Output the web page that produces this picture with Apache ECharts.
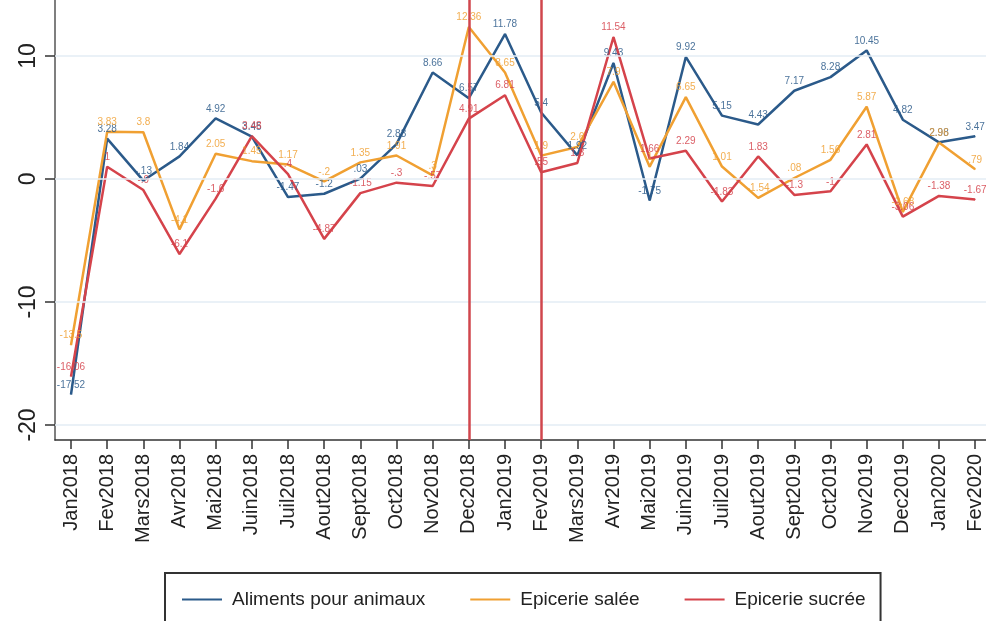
<!DOCTYPE html>
<html>
<head>
<meta charset="utf-8">
<script src="https://cdn.jsdelivr.net/npm/echarts@6/dist/echarts.min.js"></script>
<style>
  html, body { margin: 0; padding: 0; background: #fff; }
  #chart { width: 986px; height: 621px; }
</style>
</head>
<body>
<div id="chart"></div>
<script>
// mois (axe des x)
const months = ['Jan2018', 'Fev2018', 'Mars2018', 'Avr2018', 'Mai2018', 'Juin2018', 'Juil2018',
  'Aout2018', 'Sept2018', 'Oct2018', 'Nov2018', 'Dec2018', 'Jan2019', 'Fev2019', 'Mars2019',
  'Avr2019', 'Mai2019', 'Juin2019', 'Juil2019', 'Aout2019', 'Sept2019', 'Oct2019', 'Nov2019',
  'Dec2019', 'Jan2020', 'Fev2020']

const aliments = [-17.52, 3.28, -0.13, 1.84, 4.92, 3.45, -1.47, -1.2, 0.03, 2.83, 8.66, 6.57, 11.78,
  5.4, 1.92, 9.43, -1.75, 9.92, 5.15, 4.43, 7.17, 8.28, 10.45, 4.82, 2.98, 3.47]
const epicerieSalee = [-13.5, 3.83, 3.8, -4.1, 2.05, 1.45, 1.17, -0.2, 1.35, 1.91, 0.3, 12.36, 8.65,
  1.9, 2.6, 7.9, 1.0, 6.65, 1.01, -1.54, 0.08, 1.56, 5.87, -2.68, 2.96, 0.79]
const epicerieSucree = [-16.06, 1.0, -0.9, -6.1, -1.6, 3.48, 0.4, -4.87, -1.15, -0.3, -0.57, 4.91,
  6.81, 0.55, 1.3, 11.54, 1.66, 2.29, -1.83, 1.83, -1.3, -1, 2.81, -3.06, -1.38, -1.67]

const yTicks = [-20, -10, 0, 10]
const eventMonths = ['Dec2018', 'Fev2019']

const seriesNames = ['Aliments pour animaux', 'Epicerie salée', 'Epicerie sucrée']
const colors = ['#2b5a8a', '#f0a032', '#d5434b']

// format Stata : pas de zéro devant la virgule
function stataFmt(v) {
  return String(v).replace(/^(-?)0\./, '$1.')
}

function makeSeries(name, values, color, extra) {
  return Object.assign({
    name: name,
    type: 'line',
    data: values.map((v, i) => [i, v]),
    symbol: 'circle',
    symbolSize: 1,
    showSymbol: true,
    lineStyle: { color: color, width: 2.5 },
    itemStyle: { color: color },
    label: {
      show: true,
      position: 'top',
      distance: 4,
      fontSize: 10,
      fontFamily: 'Liberation Sans',
      color: color,
      opacity: 0.85,
      formatter: p => stataFmt(p.value[1])
    },
    labelLayout: { hideOverlap: false }
  }, extra || {})
}

const myChart = echarts.init(document.getElementById('chart'))

const option = {
  backgroundColor: '#fff',
  animation: false,
  grid: { left: 55, right: 0, top: 0, bottom: 181 },
  xAxis: {
    type: 'value',
    min: -0.4425,
    max: 25.3,
    splitLine: { show: false },
    axisLine: { show: true, onZero: false, lineStyle: { color: '#333', width: 1.5 } },
    axisTick: {
      show: true,
      length: 9,
      customValues: months.map((m, i) => i),
      lineStyle: { color: '#333', width: 1.5 }
    },
    axisLabel: {
      customValues: months.map((m, i) => i),
      rotate: 90,
      margin: 14,
      fontSize: 20,
      fontFamily: 'Liberation Sans',
      color: '#222',
      formatter: v => months[Math.round(v)]
    }
  },
  yAxis: {
    type: 'value',
    min: -21.22,
    max: 14.55,
    axisLine: { show: true, onZero: false, lineStyle: { color: '#555', width: 1.5 } },
    axisTick: {
      show: true,
      length: 10,
      customValues: yTicks,
      lineStyle: { color: '#333', width: 1.5 }
    },
    axisLabel: {
      customValues: yTicks,
      rotate: 90,
      margin: 15,
      fontSize: 23,
      fontFamily: 'Liberation Sans',
      color: '#222'
    },
    splitLine: { show: false }
  },
  legend: {
    left: 165,
    top: 573,
    data: seriesNames,
    icon: 'rect',
    itemWidth: 40,
    itemHeight: 2,
    itemGap: 45,
    padding: [17, 15, 14, 17],
    borderColor: '#333',
    borderWidth: 2,
    textStyle: {
      fontSize: 19,
      fontFamily: 'Liberation Sans',
      color: '#222',
      padding: [0, 0, 0, 5]
    }
  },
  series: [
    // lignes de grille horizontales
    {
      type: 'line',
      data: [],
      silent: true,
      markLine: {
        silent: true,
        symbol: 'none',
        label: { show: false },
        lineStyle: { color: '#e3edf5', width: 1.5, type: 'solid' },
        data: yTicks.map(t => ({ yAxis: t }))
      }
    },
    makeSeries(seriesNames[0], aliments, colors[0]),
    makeSeries(seriesNames[1], epicerieSalee, colors[1]),
    makeSeries(seriesNames[2], epicerieSucree, colors[2], {
      markLine: {
        silent: true,
        symbol: 'none',
        label: { show: false },
        lineStyle: { color: '#d0464d', width: 2.5, type: 'solid' },
        data: eventMonths.map(m => ({ xAxis: months.indexOf(m) }))
      }
    })
  ]
}

myChart.setOption(option)

window.addEventListener('resize', function () {
  myChart.resize()
})
</script>
</body>
</html>
